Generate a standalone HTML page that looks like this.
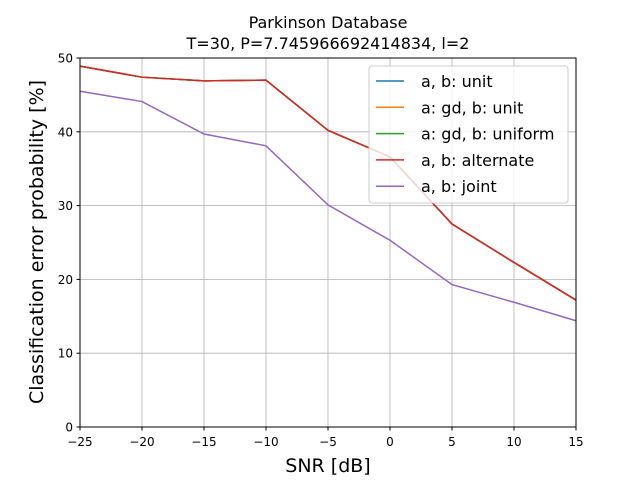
<!DOCTYPE html>
<html><head><meta charset="utf-8"><style>
body{margin:0;background:#fff}
svg{font-family:"DejaVu Sans","Liberation Sans",sans-serif}
</style></head><body>
<svg id="chart" width="640" height="480" viewBox="0 0 640 480">
<rect width="640" height="480" fill="#fff"/>
<text x="328" y="28" font-size="16" text-anchor="middle">Parkinson Database</text>
<text x="328" y="49" font-size="16" text-anchor="middle">T=30, P=7.745966692414834, l=2</text>
<g id="grid"></g>
<g id="lines"></g>
<rect x="80" y="58" width="496" height="369" fill="none" stroke="#000" stroke-width="1"/>
<g id="ticks"></g>
<text x="328" y="472" font-size="19" text-anchor="middle">SNR [dB]</text>
<text transform="translate(43,242) rotate(-90)" font-size="19" text-anchor="middle">Classification error probability [%]</text>
<g id="legend"></g>
</svg>
<script>
const xVals=[-25,-20,-15,-10,-5,0,5,10,15];
const unitVals=[48.9,47.4,46.9,47.0,40.2,36.6,27.5,22.3,17.2];
const gdUnitVals=[48.9,47.4,46.9,47.0,40.2,36.6,27.5,22.3,17.2];
const gdUniformVals=[48.9,47.4,46.9,47.0,40.2,36.6,27.5,22.3,17.2];
const alternateVals=[48.9,47.4,46.9,47.0,40.2,36.6,27.5,22.3,17.2];
const jointVals=[45.5,44.1,39.7,38.1,30.1,25.3,19.3,16.9,14.4];
const xTicks=[-25,-20,-15,-10,-5,0,5,10,15];
const yTicks=[0,10,20,30,40,50];
const seriesNames=["a, b: unit","a: gd, b: unit","a: gd, b: uniform","a, b: alternate","a, b: joint"];
const seriesColors=["#1f77b4","#ff7f0e","#2ca02c","#d62728","#9467bd"];
const seriesData=[unitVals,gdUnitVals,gdUniformVals,alternateVals,jointVals];
const NS="http://www.w3.org/2000/svg";
const sx=v=>80+(v+25)/40*496;
const sy=v=>427-v/50*369;
function mk(t,a,p){const e=document.createElementNS(NS,t);for(const k in a)e.setAttribute(k,a[k]);p.appendChild(e);return e;}
const grid=document.getElementById('grid'),ticks=document.getElementById('ticks');
xTicks.forEach(t=>{
 const g=mk('line',{x1:sx(t),x2:sx(t),y1:58,y2:427,stroke:'#b0b0b0','stroke-width':0.8},grid);
 
 
 mk('line',{x1:sx(t),x2:sx(t),y1:427,y2:430.5,stroke:'#000'},ticks);
 const l=mk('text',{x:sx(t),y:446,'font-size':12,'text-anchor':'middle'},ticks);
 l.textContent=(t<0?'\u2212'+(-t):t);
 
 
});
yTicks.forEach(t=>{
 const g=mk('line',{x1:80,x2:576,y1:sy(t),y2:sy(t),stroke:'#b0b0b0','stroke-width':0.8},grid);
 
 
 mk('line',{x1:76.5,x2:80,y1:sy(t),y2:sy(t),stroke:'#000'},ticks);
 const l=mk('text',{x:73,y:sy(t)+4.5,'font-size':12,'text-anchor':'end'},ticks);
 l.textContent=t;
 
 
});
const lines=document.getElementById('lines');
seriesData.forEach((d,i)=>{
 const p=mk('polyline',{points:d.map((v,j)=>sx(xVals[j])+','+sy(v)).join(' '),fill:'none',stroke:seriesColors[i],'stroke-width':1.5},lines);
 
 
});
const lg=document.getElementById('legend');
mk('rect',{x:369,y:66,width:199,height:137,rx:3,fill:'#fff','fill-opacity':0.8,stroke:'#ccc'},lg);
seriesNames.forEach((n,i)=>{
 const y=81+i*26.3;
 const ln=mk('line',{x1:376,x2:404,y1:y,y2:y,stroke:seriesColors[i],'stroke-width':1.5},lg);
 
 
 const t=mk('text',{x:421,y:y+6,'font-size':16},lg);
 t.textContent=n;
 
 
});
</script>
</body></html>
